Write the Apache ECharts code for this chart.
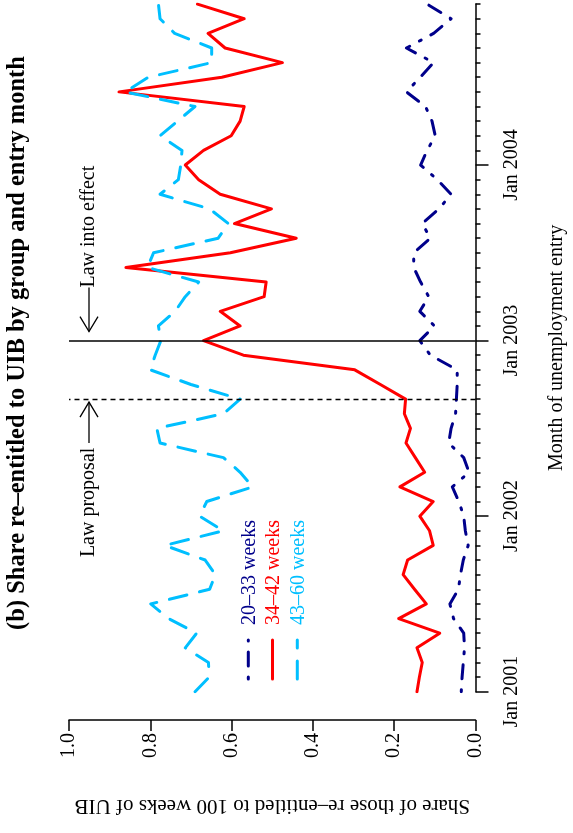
<!DOCTYPE html>
<html>
<head>
<meta charset="utf-8">
<script src="https://cdn.jsdelivr.net/npm/echarts@6/dist/echarts.min.js"></script>
<style>
html, body { margin: 0; padding: 0; background: #fff; }
#chart { width: 573px; height: 833px; }
</style>
</head>
<body>
<div id="chart"></div>
<script>
// entry months Jan 2001 .. Dec 2004 (the whole plot is turned 90 degrees)
var years = [2001, 2002, 2003, 2004];
var monthNames = ['Jan', 'Feb', 'Mar', 'Apr', 'May', 'Jun', 'Jul', 'Aug', 'Sep', 'Oct', 'Nov', 'Dec'];
var months = [];
years.forEach(function (y) {
    monthNames.forEach(function (m) { months.push(m + ' ' + y); });
});
var yearTicks = ['Jan 2001', 'Jan 2002', 'Jan 2003', 'Jan 2004'];

// share re-entitled to 100 weeks of UIB, one value per entry month
var share2033 = [0.035, 0.033, 0.030, 0.027, 0.029, 0.054, 0.063, 0.042, 0.037, 0.030, 0.018, 0.025,
                 0.029, 0.041, 0.057, 0.016, 0.029, 0.066, 0.060, 0.049, 0.047, 0.045, 0.045, 0.111,
                 0.137, 0.101, 0.137, 0.115, 0.135, 0.152, 0.152, 0.111, 0.131, 0.090, 0.060, 0.094,
                 0.135, 0.119, 0.099, 0.107, 0.123, 0.170, 0.136, 0.103, 0.170, 0.103, 0.060, 0.119];
var share3442 = [0.144, 0.138, 0.131, 0.144, 0.088, 0.189, 0.121, 0.150, 0.178, 0.167, 0.104, 0.113,
                 0.137, 0.104, 0.186, 0.125, 0.148, 0.171, 0.160, 0.175, 0.172, 0.234, 0.297, 0.571,
                 0.669, 0.579, 0.628, 0.520, 0.515, 0.860, 0.603, 0.441, 0.593, 0.502, 0.628, 0.681,
                 0.714, 0.669, 0.601, 0.579, 0.569, 0.877, 0.624, 0.475, 0.616, 0.658, 0.569, 0.684];
var share4360 = [0.690, 0.655, 0.657, 0.714, 0.686, 0.755, 0.799, 0.654, 0.640, 0.665, 0.764, 0.620,
                 0.679, 0.661, 0.548, 0.579, 0.620, 0.776, 0.784, 0.620, 0.579, 0.700, 0.800, 0.788,
                 0.774, 0.780, 0.739, 0.714, 0.681, 0.807, 0.792, 0.633, 0.608, 0.654, 0.776, 0.731,
                 0.725, 0.722, 0.776, 0.733, 0.690, 0.862, 0.805, 0.649, 0.649, 0.740, 0.776, 0.780];

var groupNames = ['20\u201333 weeks', '34\u201342 weeks', '43\u201360 weeks'];
var groupColors = ['#00008B', '#FF0000', '#00BFFF'];
var groupDash = [[2, 11, 14, 11], 'solid', [18, 13]];

var lawProposal = 'Sep 2002';
var lawInEffect = 'Jan 2003';

var FONT = 'Liberation Serif';

function toPairs(arr) {
    return arr.map(function (v, i) { return [v, i]; });
}
function isYearTick(i, v) {
    return yearTicks.indexOf(v) >= 0;
}

var allSeries = [share2033, share3442, share4360].map(function (arr, k) {
    return {
        name: groupNames[k],
        type: 'line',
        xAxisIndex: 0,
        yAxisIndex: 0,
        data: toPairs(arr),
        showSymbol: false,
        silent: true,
        lineStyle: { color: groupColors[k], width: 3, type: groupDash[k], cap: 'round', join: 'round' }
    };
});
allSeries[1].markLine = {
    silent: true,
    symbol: 'none',
    label: { show: false },
    data: [
        { yAxis: months.indexOf(lawProposal), lineStyle: { color: '#000', width: 1.3, type: [5, 4] } },
        { yAxis: months.indexOf(lawInEffect), lineStyle: { color: '#000', width: 1.5, type: 'solid' } }
    ]
};

var chart = echarts.init(document.getElementById('chart'));

var option = {
    animation: false,
    backgroundColor: '#fff',
    grid: { left: 69, right: 97.5, top: 4.1, bottom: 141.3, containLabel: false, outerBoundsMode: 'none' },
    xAxis: {
        type: 'value',
        min: 0, max: 1, interval: 0.2,
        inverse: true,
        position: 'bottom',
        offset: 28.3,
        axisLine: { show: true, lineStyle: { color: '#000', width: 1.5 } },
        axisTick: { show: true, length: 11, lineStyle: { color: '#000', width: 1.5 } },
        splitLine: { show: false },
        axisLabel: {
            rotate: 90, margin: 13,
            color: '#000', fontFamily: FONT, fontSize: 20,
            formatter: function (v) { return v.toFixed(1); }
        },
        name: 'Share of those re\u2013entitled to 100 weeks of UIB',
        nameLocation: 'middle',
        nameRotate: 180,
        nameGap: 75,
        nameTextStyle: { color: '#000', fontFamily: FONT, fontSize: 21 }
    },
    yAxis: [{
        type: 'category',
        data: months,
        boundaryGap: false,
        position: 'right',
        axisLine: { show: true, lineStyle: { color: '#000', width: 1.5 } },
        axisTick: { show: true, interval: 0, length: 5, lineStyle: { color: '#000', width: 1.5 } },
        axisLabel: { show: false },
        splitLine: { show: false }
    }, {
        type: 'category',
        data: months,
        boundaryGap: false,
        position: 'right',
        axisLine: { show: false },
        axisTick: { show: true, interval: isYearTick, length: 13, lineStyle: { color: '#000', width: 1.5 } },
        axisLabel: {
            interval: isYearTick, rotate: 90, margin: 26,
            color: '#000', fontFamily: FONT, fontSize: 20
        },
        splitLine: { show: false },
        name: 'Month of unemployment entry',
        nameLocation: 'middle',
        nameRotate: 90,
        nameGap: 71,
        nameTextStyle: { color: '#000', fontFamily: FONT, fontSize: 20 }
    }],
    series: allSeries
};
chart.setOption(option);

// annotations, legend and title, all drawn turned by 90 degrees
var yProp = chart.convertToPixel({ yAxisIndex: 0 }, months.indexOf(lawProposal));
var yEff = chart.convertToPixel({ yAxisIndex: 0 }, months.indexOf(lawInEffect));
var ax = 89;
var arrowStyle = { stroke: '#000', lineWidth: 1.3, fill: null };

function upText(text, x, y, color, size, weight, align) {
    return {
        type: 'text', x: x, y: y, rotation: Math.PI / 2, silent: true,
        style: {
            text: text, fill: color, fontFamily: FONT, fontSize: size, fontWeight: weight || 'normal',
            align: align || 'left', verticalAlign: 'middle'
        }
    };
}

var graphics = [
    upText('(b) Share re\u2013entitled to UIB by group and entry month', 18, 343, '#000', 24.5, 'bold', 'center'),
    // law proposal, arrow pointing to the dashed line
    upText('Law proposal', ax, yProp + 158, '#000', 20),
    { type: 'line', silent: true, shape: { x1: ax, y1: yProp + 44, x2: ax, y2: yProp + 3 }, style: arrowStyle },
    { type: 'polyline', silent: true, shape: { points: [[ax - 9, yProp + 18], [ax, yProp + 3], [ax + 9, yProp + 18]] }, style: arrowStyle },
    // law into effect, arrow pointing to the solid line
    upText('Law into effect', ax, yEff - 53, '#000', 20),
    { type: 'line', silent: true, shape: { x1: ax, y1: yEff - 53, x2: ax, y2: yEff - 9 }, style: arrowStyle },
    { type: 'polyline', silent: true, shape: { points: [[ax - 9, yEff - 24], [ax, yEff - 9], [ax + 9, yEff - 24]] }, style: arrowStyle }
];

// legend
var legX = [248.3, 272.5, 297.3];
groupNames.forEach(function (name, k) {
    graphics.push({
        type: 'line', silent: true,
        shape: { x1: legX[k], y1: 679, x2: legX[k], y2: 640 },
        style: { stroke: groupColors[k], lineWidth: 3, lineDash: groupDash[k] === 'solid' ? null : groupDash[k], lineCap: 'round' }
    });
    graphics.push(upText(name, legX[k] + 1, 625, groupColors[k], 20));
});

chart.setOption({ graphic: graphics });
</script>
</body>
</html>
